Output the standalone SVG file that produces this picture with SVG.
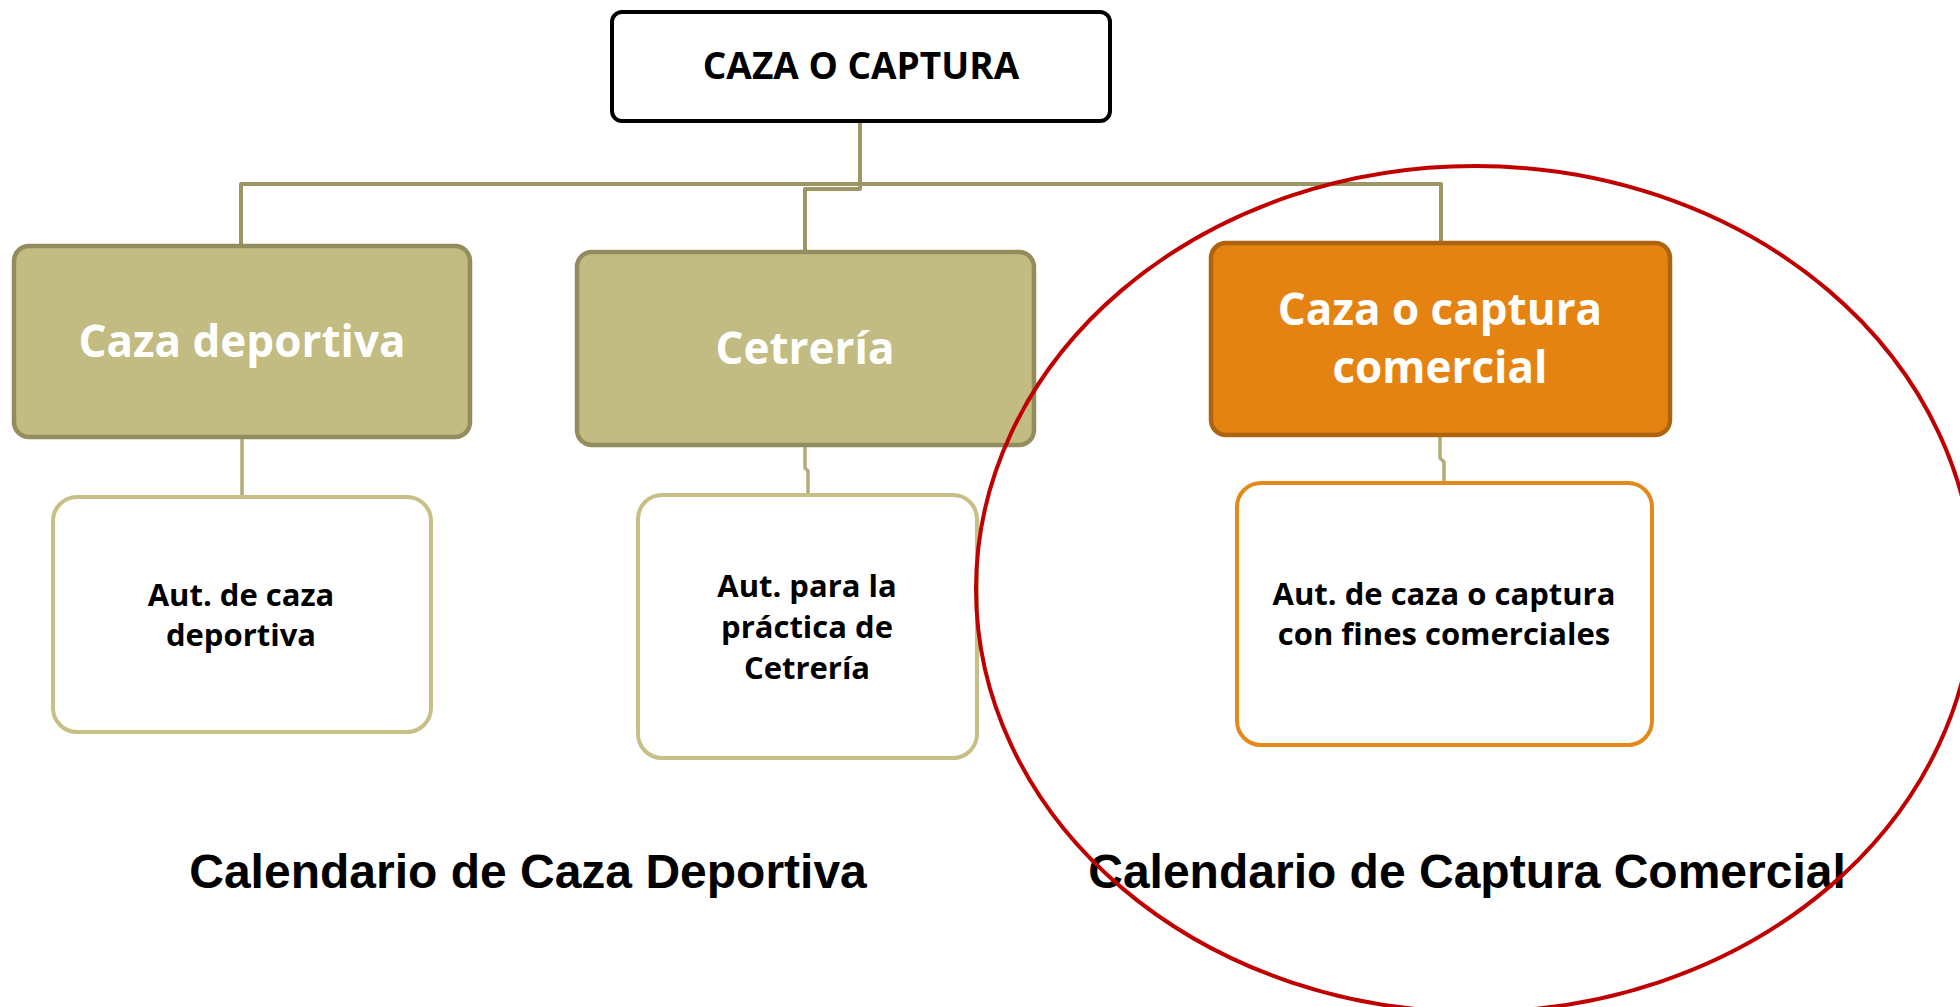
<svg xmlns="http://www.w3.org/2000/svg" width="1960" height="1007" viewBox="0 0 1960 1007">
<style>
.conn{fill:none;stroke:#9C9564;stroke-width:4;stroke-linejoin:round}
.conn2{fill:none;stroke:#B3AC78;stroke-width:3.5;stroke-linejoin:round}
.top{fill:#FFFFFF;stroke:#000000;stroke-width:4}
.olive{fill:#C2BC82;stroke:#938D5D;stroke-width:4.5}
.orange{fill:#E48312;stroke:#AE640E;stroke-width:4.5}
.olivel{fill:#FFFFFF;stroke:#C6BF86;stroke-width:4}
.orangel{fill:#FFFFFF;stroke:#E58A1A;stroke-width:4}
.t{font-family:"Open Sans","Noto Sans",sans-serif;font-weight:bold;text-anchor:middle}
.h2{font-size:44px;fill:#FFFFFF}
.h3{font-size:31px;fill:#000000}
.cal{font-family:"Liberation Sans",Arial,sans-serif;font-weight:bold;font-size:48px;fill:#000000;text-anchor:middle}
</style>
<rect width="1960" height="1007" fill="#FFFFFF"/>
<g id="connectors">
<path class="conn" d="M241,246 V184 H1441 V243"/>
<path class="conn" d="M860,121 V189 H805 V252"/>
<path class="conn2" d="M242,437 V497"/>
<path class="conn2" d="M805,445 V468 L808,471 V495"/>
<path class="conn2" d="M1440,435 V458 L1444,462 V483"/>
</g>
<g id="caza-o-captura">
<rect class="top" x="612" y="12" width="498" height="109" rx="10"/>
<text class="t" x="861" y="79" font-size="37" fill="#000000">CAZA O CAPTURA</text>
</g>
<g id="caza-deportiva">
<rect class="olive" x="14" y="246" width="456" height="191" rx="15"/>
<text class="t h2" x="242" y="357">Caza deportiva</text>
</g>
<g id="cetreria">
<rect class="olive" x="577" y="252" width="457" height="193" rx="15"/>
<text class="t h2" x="805" y="364">Cetrería</text>
</g>
<g id="caza-comercial">
<rect class="orange" x="1211" y="243" width="459" height="192" rx="15"/>
<text class="t h2" x="1440" y="325">Caza o captura</text>
<text class="t h2" x="1440" y="383">comercial</text>
</g>
<g id="aut-deportiva">
<rect class="olivel" x="53" y="497" width="378" height="235" rx="24"/>
<text class="t h3" x="241" y="606">Aut. de caza</text>
<text class="t h3" x="241" y="646">deportiva</text>
</g>
<g id="aut-cetreria">
<rect class="olivel" x="638" y="495" width="339" height="263" rx="24"/>
<text class="t h3" x="807" y="597">Aut. para la</text>
<text class="t h3" x="807" y="638">práctica de</text>
<text class="t h3" x="807" y="679">Cetrería</text>
</g>
<g id="aut-comercial">
<rect class="orangel" x="1237" y="483" width="415" height="262" rx="24"/>
<text class="t h3" x="1444" y="605">Aut. de caza o captura</text>
<text class="t h3" x="1444" y="645">con fines comerciales</text>
</g>
<g id="calendario-deportiva">
<text class="cal" x="528" y="888">Calendario de Caza Deportiva</text>
</g>
<g id="calendario-comercial">
<text class="cal" x="1467" y="888">Calendario de Captura Comercial</text>
</g>
<g id="highlight">
<ellipse cx="1475" cy="589" rx="499" ry="423" fill="none" stroke="#C00000" stroke-width="4"/>
</g>
</svg>
